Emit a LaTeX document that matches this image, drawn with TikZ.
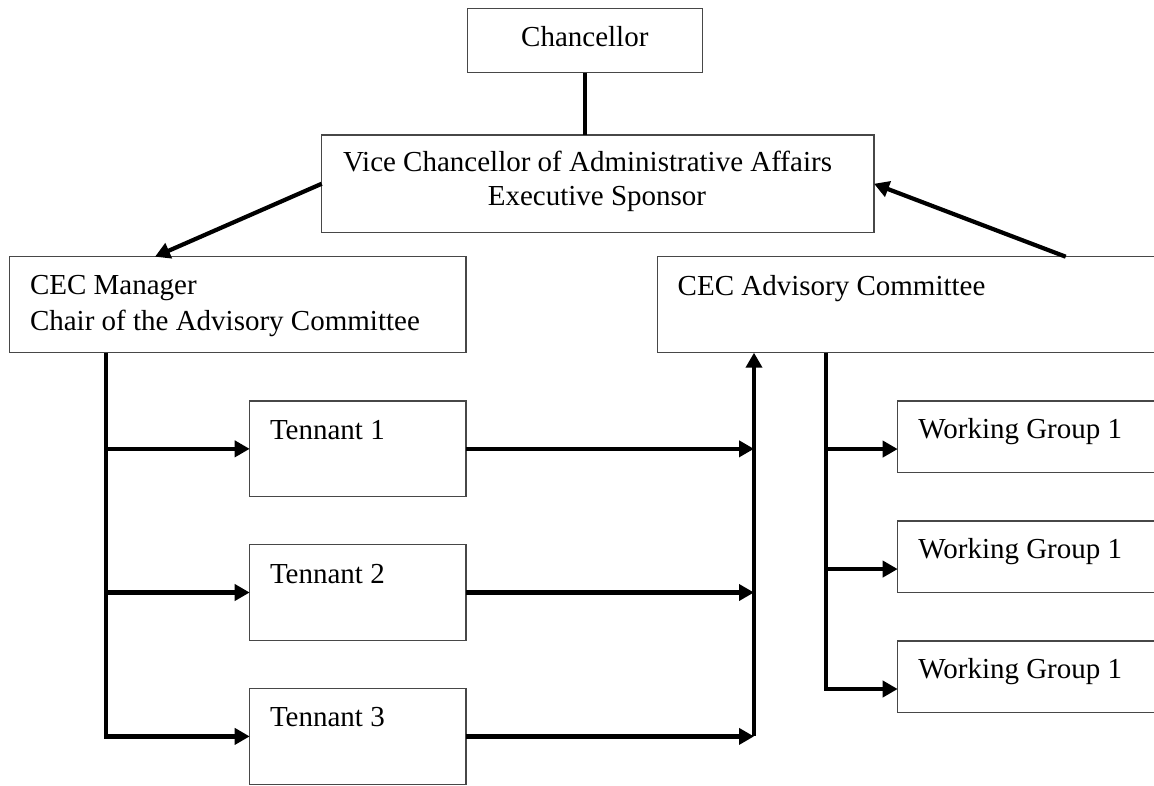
\documentclass[tikz,border=0pt]{standalone}
\usepackage{fontspec}
\setmainfont{Liberation Serif}
\usetikzlibrary{arrows.meta,calc}
\begin{document}
\begin{tikzpicture}[x=1pt,y=-1pt,
  box/.style={draw=black!72, line width=1.4pt, fill=white, inner sep=0pt, outer sep=0pt},
  txt/.style={inner sep=0pt, outer sep=0pt, text=black, font=\fontsize{29}{33}\selectfont},
  conn/.style={line width=4.2pt, black},
  arr/.style={conn, -{Triangle[length=15pt,width=16pt]}}
]
\path[use as bounding box] (0,0) rectangle (1154,785);
\clip (0,0) rectangle (1154,785);
\fill[white] (0,0) rectangle (1154,785);

% boxes
\node[box, minimum width=235.4pt, minimum height=64pt] (chan) at (585,40.7) {};
\node[box, minimum width=552.3pt, minimum height=97.5pt] (vc) at (597.85,183.75) {};
\node[box, minimum width=456.7pt, minimum height=96pt] (mgr) at (237.65,304.7) {};
\node[box, minimum width=642.3pt, minimum height=96pt] (adv) at (978.85,304.7) {};
\node[box, minimum width=216.3pt, minimum height=95.7pt] (t1) at (357.85,448.85) {};
\node[box, minimum width=216.3pt, minimum height=96.4pt] (t2) at (357.85,592.5) {};
\node[box, minimum width=216.3pt, minimum height=96.2pt] (t3) at (357.85,736.4) {};
\node[box, minimum width=402.3pt, minimum height=71.7pt] (wg1) at (1098.85,436.85) {};
\node[box, minimum width=402.3pt, minimum height=71.7pt] (wg2) at (1098.85,556.85) {};
\node[box, minimum width=402.3pt, minimum height=71.7pt] (wg3) at (1098.85,676.7) {};

% texts
\node[txt, anchor=base] (chanT) at (584.8,46.7) {Chancellor};
\node[txt, anchor=base west] (vcT1) at (343,171.7) {Vice Chancellor of Administrative Affairs};
\node[txt, anchor=base] (vcT2) at (597,205) {Executive Sponsor};
\node[txt, anchor=base west] (mgrT1) at (30,294) {CEC Manager};
\node[txt, anchor=base west] (mgrT2) at (30,330) {Chair of the Advisory Committee};
\node[txt, anchor=base west] (advT) at (677.7,295) {CEC Advisory Committee};
\node[txt, anchor=base west] (t1T) at (270,439) {Tennant 1};
\node[txt, anchor=base west] (t2T) at (270,583.3) {Tennant 2};
\node[txt, anchor=base west] (t3T) at (270,726.7) {Tennant 3};
\node[txt, anchor=base west] (wg1T) at (918.3,438.3) {Working Group 1};
\node[txt, anchor=base west] (wg2T) at (918.3,558.3) {Working Group 1};
\node[txt, anchor=base west] (wg3T) at (918.3,678.3) {Working Group 1};

% helper coordinates
\coordinate (L) at ([xshift=96.7pt]mgr.south west);
\coordinate (M) at ([xshift=96.3pt]adv.south west);
\coordinate (R) at ([xshift=168pt]adv.south west);
\coordinate (w1) at ([yshift=-12.2pt]wg1.west);
\coordinate (w2) at ([yshift=-12.2pt]wg2.west);
\coordinate (w3) at ([yshift=-12.3pt]wg3.west);

% connectors
\draw[conn] (chan.south) -- (chan.south |- vc.north);
\draw[arr] (vc.west) -- ([xshift=145.7pt]mgr.north west);
\draw[arr] ([xshift=408pt]adv.north west) -- (vc.east);

\draw[arr] (L) |- (t3.west);
\draw[arr] (L |- t1.west) -- (t1.west);
\draw[arr] (L |- t2.west) -- (t2.west);

\draw[arr] (t1.east) -- (M |- t1.east);
\draw[arr] (t2.east) -- (M |- t2.east);
\draw[arr] (t3.east) -- (M |- t3.east);
\draw[arr] (M |- t3.east) -- (M);

\draw[arr] (R) |- (w3);
\draw[arr] (R |- w1) -- (w1);
\draw[arr] (R |- w2) -- (w2);
\end{tikzpicture}
\end{document}
